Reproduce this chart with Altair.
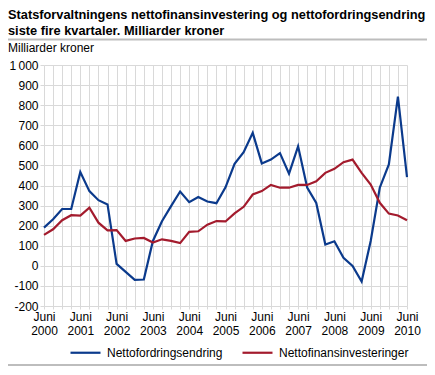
import altair as alt
import pandas as pd

# ---- data ----
quarters = list(range(41))  # 0 = juni 2000 ... 40 = juni 2010, one per quarter
series_names = ["Nettofordringsendring", "Nettofinansinvesteringer"]
series_colors = ["#0b3a8c", "#a31b2d"]

fordring = [190, 232, 283, 283, 467, 372, 327, 306, 10, -30, -70, -68,
            124, 222, 297, 370, 317, 343, 320, 312, 391, 508, 566, 662,
            510, 529, 561, 459, 595, 390, 313, 106, 122, 40, 0, -78,
            124, 389, 505, 843, 442]
finans = [154, 182, 227, 252, 250, 290, 215, 177, 178, 124, 136, 139,
          116, 132, 124, 113, 169, 172, 205, 223, 221, 261, 294, 355,
          372, 403, 389, 389, 403, 403, 421, 463, 483, 516, 529, 463,
          405, 314, 260, 251, 227]

y_ticks = list(range(-200, 1001, 100))
title_text = ("Statsforvaltningens nettofinansinvestering og nettofordringsendring\n"
              "siste fire kvartaler. Milliarder kroner")
unit_text = "Milliarder kroner"

rows = []
for name, vals in zip(series_names, [fordring, finans]):
    for q, v in zip(quarters, vals):
        rows.append({"q": q, "serie": name, "verdi": v})
df = pd.DataFrame(rows)

FONT = "Liberation Sans"
PL = 36
W, H = 363, 241
GRID = "#d9d9d9"

lines = alt.Chart(df).mark_line(strokeWidth=2.2).encode(
    x=alt.X("q:Q",
            scale=alt.Scale(domain=[0, 40], nice=False, zero=False),
            axis=alt.Axis(values=quarters, title=None, grid=True, gridColor=GRID,
                          gridWidth=1, tickColor=GRID, tickSize=3, domain=False,
                          labelPadding=2, labelFlush=False, labelOverlap=False,
                          labelFont=FONT, labelFontSize=12, labelColor="#000",
                          labelLineHeight=14,
                          labelExpr="datum.value % 4 == 0 ? ['Juni', '' + (2000 + datum.value / 4)] : ''")),
    y=alt.Y("verdi:Q",
            scale=alt.Scale(domain=[-200, 1000], nice=False, zero=False),
            axis=alt.Axis(values=y_ticks, title=None, grid=True, gridColor=GRID,
                          gridWidth=1, tickColor=GRID, tickSize=4, domain=False,
                          labelPadding=2, labelFlush=False, labelOverlap=False,
                          labelFont=FONT, labelFontSize=12, labelColor="#000",
                          labelExpr="datum.value == 1000 ? '1\u2009000' : '' + datum.value")),
    color=alt.Color("serie:N",
                    scale=alt.Scale(domain=series_names, range=series_colors),
                    legend=alt.Legend(title=None, orient="none", direction="horizontal",
                                      legendX=25, legendY=271, padding=0,
                                      symbolType="stroke", symbolSize=900,
                                      symbolStrokeWidth=2.2, labelOffset=5,
                                      columnPadding=15, labelFont=FONT,
                                      labelFontSize=12, labelColor="#000")),
)

title = alt.Chart(pd.DataFrame({"t": [title_text]})).mark_text(
    align="left", baseline="alphabetic", font=FONT, fontSize=12.8,
    fontWeight="bold", lineBreak="\n", lineHeight=16, color="#000"
).encode(text="t:N", x=alt.value(-PL), y=alt.value(-46.5))

unit = alt.Chart(pd.DataFrame({"t": [unit_text]})).mark_text(
    align="left", baseline="alphabetic", font=FONT, fontSize=12, color="#000"
).encode(text="t:N", x=alt.value(-PL), y=alt.value(-13))

top_rule = alt.Chart(pd.DataFrame({"a": [0]})).mark_rule(
    color="#bdbdbd", strokeWidth=2
).encode(x=alt.value(-PL), x2=alt.value(W + 20), y=alt.value(-25.5))

bottom_rule = alt.Chart(pd.DataFrame({"a": [0]})).mark_rule(
    color="#bdbdbd", strokeWidth=2
).encode(x=alt.value(-PL), x2=alt.value(W + 20), y=alt.value(300))

chart = alt.layer(lines, title, unit, top_rule, bottom_rule).properties(
    width=W, height=H,
    autosize=alt.AutoSizeParams(type="none"),
    padding={"left": PL, "top": 57, "right": 20, "bottom": 61},
).configure_view(stroke=None)

chart.save("out.html", embed_options={"renderer": "svg", "actions": False})
